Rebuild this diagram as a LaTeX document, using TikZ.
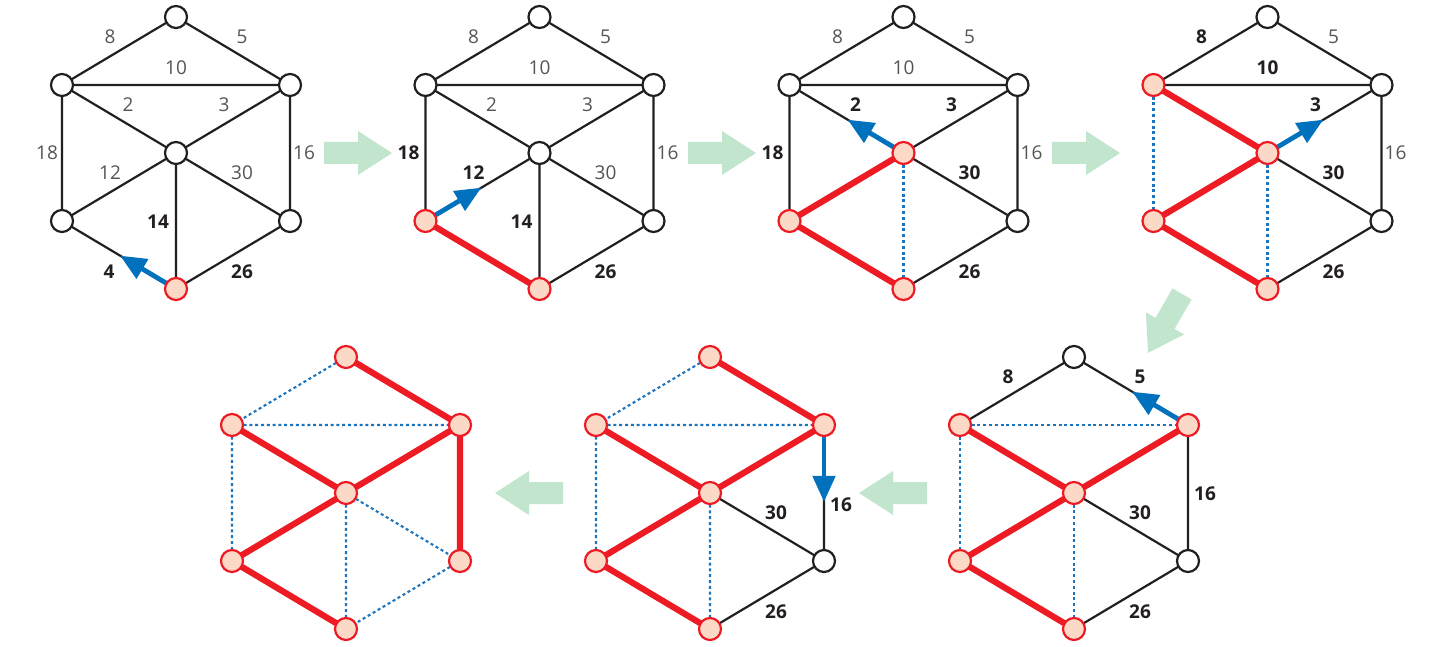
\documentclass[tikz,border=0pt]{standalone}
\usepackage{fontspec}
\setmainfont{Open Sans}
\usetikzlibrary{arrows.meta,calc}
\definecolor{ink}{HTML}{231F20}
\definecolor{lblgray}{HTML}{555555}
\definecolor{mstred}{HTML}{ED1C24}
\definecolor{peach}{HTML}{FCD9C7}
\definecolor{arrowblue}{HTML}{0071BC}
\definecolor{dotblue}{HTML}{1C75BC}
\definecolor{stepgreen}{HTML}{C2E5CD}
\pgfdeclarelayer{bg}
\pgfsetlayers{bg,main}
\newcommand\stepArrow[3]{\fill[garrow,shift={(#1,#2)},rotate=#3] (0,-11) -- (34,-11) -- (34,-22) -- (68,0) -- (34,22) -- (34,11) -- (0,11) -- cycle;}
\begin{document}
\begin{tikzpicture}[x=1pt,y=-1pt,
 wv/.style={circle,draw=ink,fill=white,line width=2.2pt,minimum size=22pt,inner sep=0pt},
 rv/.style={circle,draw=mstred,fill=peach,line width=2.2pt,minimum size=22pt,inner sep=0pt},
 bedge/.style={draw=ink,line width=2.2pt},
 redge/.style={draw=mstred,line width=6.2pt},
 dedge/.style={draw=dotblue,line width=2.1pt,dash pattern=on 3pt off 2.8pt},
 parrow/.style={draw=arrowblue,line width=4.8pt,-{Triangle[length=26pt,width=22pt]}},
 lt/.style={font=\fontsize{19}{22}\selectfont,text=lblgray,inner sep=0pt},
 lb/.style={font=\fontsize{19}{22}\selectfont\bfseries,text=ink,inner sep=0pt},
 garrow/.style={fill=stepgreen,draw=none}
]
\useasboundingbox (0,0) rectangle (1438,647);
\begin{pgfonlayer}{bg}
\fill[white] (0,0) rectangle (1438,647);
\end{pgfonlayer}

% step arrows
\stepArrow{324}{153}{0}
\stepArrow{688}{153}{0}
\stepArrow{1052}{153}{0}
\stepArrow{1182}{294}{240}
\stepArrow{927}{493}{180}
\stepArrow{563}{493}{180}

% ---------- Graph 1 ----------
\begin{scope}[shift={(176,153)}]
\node[wv] (aT) at (0,-136) {};
\node[wv] (aUL) at (-114,-68) {};
\node[wv] (aUR) at (114,-68) {};
\node[wv] (aC) at (0,0) {};
\node[wv] (aLL) at (-114,68) {};
\node[wv] (aLR) at (114,68) {};
\node[rv] (aB) at (0,136) {};
\begin{pgfonlayer}{bg}
\draw[bedge] (aT.center)--(aUL.center) (aT.center)--(aUR.center) (aUL.center)--(aUR.center)
 (aUL.center)--(aC.center) (aUR.center)--(aC.center) (aUL.center)--(aLL.center)
 (aUR.center)--(aLR.center) (aC.center)--(aLL.center) (aC.center)--(aLR.center)
 (aC.center)--(aB.center) (aLL.center)--(aB.center) (aLR.center)--(aB.center);
\draw[parrow] (aB.center) -- ($(aB.center)!0.49!(aLL.center)$);
\end{pgfonlayer}
\node[lt] (a8) at (-66,-116) {8};
\node[lt] (a5) at (66,-116) {5};
\node[lt] (a10) at (0,-85) {10};
\node[lt] (a2) at (-48,-48) {2};
\node[lt] (a3) at (48,-48) {3};
\node[lt] (a18) at (-129,0) {18};
\node[lt] (a16) at (128,0) {16};
\node[lt] (a12) at (-66,20) {12};
\node[lt] (a30) at (66,20) {30};
\node[lb] (a14) at (-18,69) {14};
\node[lb] (a4) at (-67,119) {4};
\node[lb] (a26) at (66,119) {26};
\end{scope}

% ---------- Graph 2 ----------
\begin{scope}[shift={(539.5,153)}]
\node[wv] (bT) at (0,-136) {};
\node[wv] (bUL) at (-114,-68) {};
\node[wv] (bUR) at (114,-68) {};
\node[wv] (bC) at (0,0) {};
\node[rv] (bLL) at (-114,68) {};
\node[wv] (bLR) at (114,68) {};
\node[rv] (bB) at (0,136) {};
\begin{pgfonlayer}{bg}
\draw[bedge] (bT.center)--(bUL.center) (bT.center)--(bUR.center) (bUL.center)--(bUR.center)
 (bUL.center)--(bC.center) (bUR.center)--(bC.center) (bUL.center)--(bLL.center)
 (bUR.center)--(bLR.center) (bC.center)--(bLL.center) (bC.center)--(bLR.center)
 (bC.center)--(bB.center) (bLR.center)--(bB.center);
\draw[redge] (bLL.center)--(bB.center);
\draw[parrow] (bLL.center) -- ($(bLL.center)!0.49!(bC.center)$);
\end{pgfonlayer}
\node[lt] (b8) at (-66,-116) {8};
\node[lt] (b5) at (66,-116) {5};
\node[lt] (b10) at (0,-85) {10};
\node[lt] (b2) at (-48,-48) {2};
\node[lt] (b3) at (48,-48) {3};
\node[lb] (b18) at (-131,0) {18};
\node[lt] (b16) at (128,0) {16};
\node[lb] (b12) at (-66,20) {12};
\node[lt] (b30) at (66,20) {30};
\node[lb] (b14) at (-18,69) {14};
\node[lb] (b26) at (66,119) {26};
\end{scope}

% ---------- Graph 3 ----------
\begin{scope}[shift={(903.5,153)}]
\node[wv] (cT) at (0,-136) {};
\node[wv] (cUL) at (-114,-68) {};
\node[wv] (cUR) at (114,-68) {};
\node[rv] (cC) at (0,0) {};
\node[rv] (cLL) at (-114,68) {};
\node[wv] (cLR) at (114,68) {};
\node[rv] (cB) at (0,136) {};
\begin{pgfonlayer}{bg}
\draw[dedge] (cC.center)--(cB.center);
\draw[bedge] (cT.center)--(cUL.center) (cT.center)--(cUR.center) (cUL.center)--(cUR.center)
 (cUL.center)--(cC.center) (cUR.center)--(cC.center) (cUL.center)--(cLL.center)
 (cUR.center)--(cLR.center) (cC.center)--(cLR.center) (cLR.center)--(cB.center);
\draw[redge] (cLL.center)--(cB.center) (cC.center)--(cLL.center);
\draw[parrow] (cC.center) -- ($(cC.center)!0.49!(cUL.center)$);
\end{pgfonlayer}
\node[lt] (c8) at (-66,-116) {8};
\node[lt] (c5) at (66,-116) {5};
\node[lt] (c10) at (0,-85) {10};
\node[lb] (c2) at (-48,-48) {2};
\node[lb] (c3) at (48,-48) {3};
\node[lb] (c18) at (-131,0) {18};
\node[lt] (c16) at (128,0) {16};
\node[lb] (c30) at (66,20) {30};
\node[lb] (c26) at (66,119) {26};
\end{scope}

% ---------- Graph 4 ----------
\begin{scope}[shift={(1267.5,153)}]
\node[wv] (dT) at (0,-136) {};
\node[rv] (dUL) at (-114,-68) {};
\node[wv] (dUR) at (114,-68) {};
\node[rv] (dC) at (0,0) {};
\node[rv] (dLL) at (-114,68) {};
\node[wv] (dLR) at (114,68) {};
\node[rv] (dB) at (0,136) {};
\begin{pgfonlayer}{bg}
\draw[dedge] (dUL.center)--(dLL.center) (dC.center)--(dB.center);
\draw[bedge] (dT.center)--(dUL.center) (dT.center)--(dUR.center) (dUL.center)--(dUR.center)
 (dUR.center)--(dC.center) (dUR.center)--(dLR.center) (dC.center)--(dLR.center)
 (dLR.center)--(dB.center);
\draw[redge] (dUL.center)--(dC.center) (dC.center)--(dLL.center) (dLL.center)--(dB.center);
\draw[parrow] (dC.center) -- ($(dC.center)!0.49!(dUR.center)$);
\end{pgfonlayer}
\node[lb] (d8) at (-66,-116) {8};
\node[lt] (d5) at (66,-116) {5};
\node[lb] (d10) at (0,-85) {10};
\node[lb] (d3) at (48,-48) {3};
\node[lt] (d16) at (128,0) {16};
\node[lb] (d30) at (66,20) {30};
\node[lb] (d26) at (66,119) {26};
\end{scope}

% ---------- Graph 5 ----------
\begin{scope}[shift={(1074,493)}]
\node[wv] (eT) at (0,-136) {};
\node[rv] (eUL) at (-114,-68) {};
\node[rv] (eUR) at (114,-68) {};
\node[rv] (eC) at (0,0) {};
\node[rv] (eLL) at (-114,68) {};
\node[wv] (eLR) at (114,68) {};
\node[rv] (eB) at (0,136) {};
\begin{pgfonlayer}{bg}
\draw[dedge] (eUL.center)--(eUR.center) (eUL.center)--(eLL.center) (eC.center)--(eB.center);
\draw[bedge] (eT.center)--(eUL.center) (eT.center)--(eUR.center) (eUR.center)--(eLR.center)
 (eC.center)--(eLR.center) (eLR.center)--(eB.center);
\draw[redge] (eUL.center)--(eC.center) (eC.center)--(eUR.center) (eC.center)--(eLL.center) (eLL.center)--(eB.center);
\draw[parrow] (eUR.center) -- ($(eUR.center)!0.49!(eT.center)$);
\end{pgfonlayer}
\node[lb] (e8) at (-66,-116) {8};
\node[lb] (e5) at (66,-116) {5};
\node[lb] (e16) at (131,1) {16};
\node[lb] (e30) at (66,20) {30};
\node[lb] (e26) at (66,119) {26};
\end{scope}

% ---------- Graph 6 ----------
\begin{scope}[shift={(710,493)}]
\node[rv] (fT) at (0,-136) {};
\node[rv] (fUL) at (-114,-68) {};
\node[rv] (fUR) at (114,-68) {};
\node[rv] (fC) at (0,0) {};
\node[rv] (fLL) at (-114,68) {};
\node[wv] (fLR) at (114,68) {};
\node[rv] (fB) at (0,136) {};
\begin{pgfonlayer}{bg}
\draw[dedge] (fT.center)--(fUL.center) (fUL.center)--(fUR.center) (fUL.center)--(fLL.center) (fC.center)--(fB.center);
\draw[bedge] (fUR.center)--(fLR.center) (fC.center)--(fLR.center) (fLR.center)--(fB.center);
\draw[redge] (fT.center)--(fUR.center) (fUL.center)--(fC.center) (fC.center)--(fUR.center) (fC.center)--(fLL.center) (fLL.center)--(fB.center);
\draw[parrow] (fUR.center) -- ($(fUR.center)!0.566!(fLR.center)$);
\end{pgfonlayer}
\node[lb] (f16) at (131,12) {16};
\node[lb] (f30) at (66,20) {30};
\node[lb] (f26) at (66,119) {26};
\end{scope}

% ---------- Graph 7 ----------
\begin{scope}[shift={(346,493)}]
\node[rv] (gT) at (0,-136) {};
\node[rv] (gUL) at (-114,-68) {};
\node[rv] (gUR) at (114,-68) {};
\node[rv] (gC) at (0,0) {};
\node[rv] (gLL) at (-114,68) {};
\node[rv] (gLR) at (114,68) {};
\node[rv] (gB) at (0,136) {};
\begin{pgfonlayer}{bg}
\draw[dedge] (gT.center)--(gUL.center) (gUL.center)--(gUR.center) (gUL.center)--(gLL.center)
 (gC.center)--(gB.center) (gC.center)--(gLR.center) (gLR.center)--(gB.center);
\draw[redge] (gT.center)--(gUR.center) (gUL.center)--(gC.center) (gC.center)--(gUR.center)
 (gC.center)--(gLL.center) (gLL.center)--(gB.center) (gUR.center)--(gLR.center);
\end{pgfonlayer}
\end{scope}
\end{tikzpicture}
\end{document}
